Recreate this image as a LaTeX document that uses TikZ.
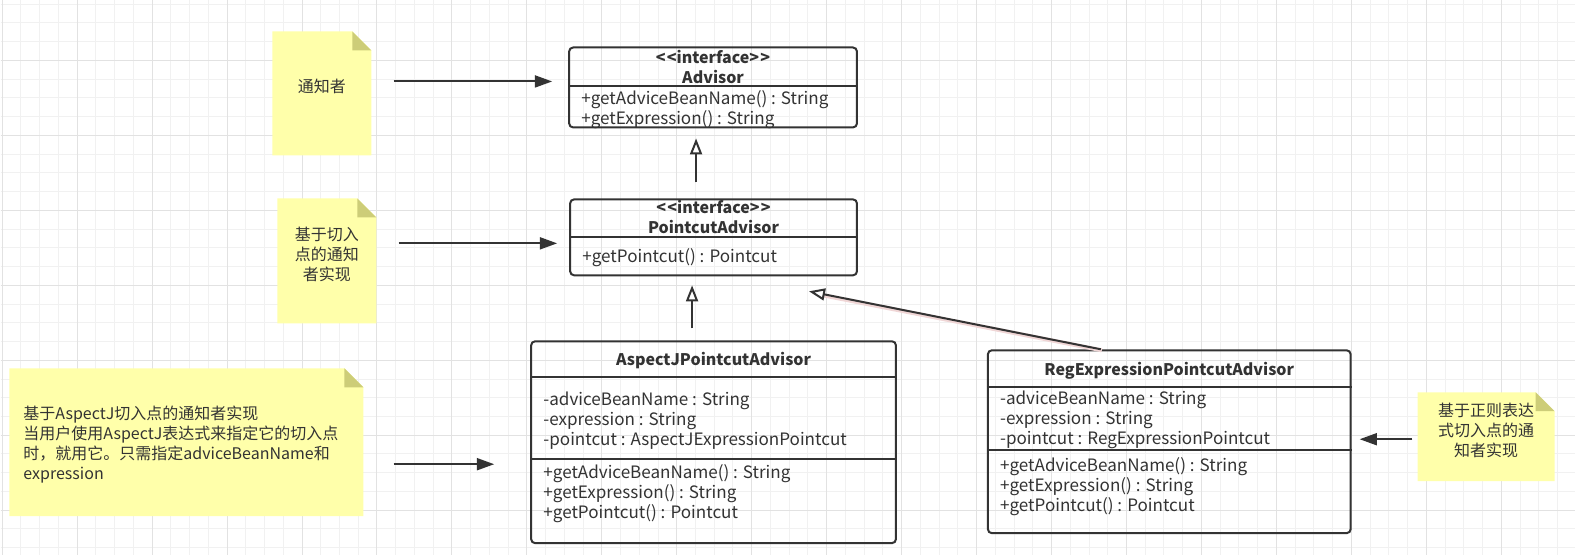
\documentclass[tikz,border=0pt]{standalone}
\usepackage{fontspec}
\setmainfont{Noto Sans CJK SC}
\usepackage{tikz}
\usetikzlibrary{arrows.meta, fit, calc}
\definecolor{UMLInk}{RGB}{51,51,51}
\definecolor{NoteYellow}{RGB}{255,255,170}
\definecolor{NoteFold}{RGB}{205,205,120}
\definecolor{GridMinor}{RGB}{241,241,241}
\definecolor{GridMajor}{RGB}{226,226,226}
\definecolor{LinkGlow}{RGB}{240,214,214}

\begin{document}
\begin{tikzpicture}[x=0.75pt, y=-0.75pt,
          cls/.style={draw=UMLInk, line width=1.5pt, rounded corners=3pt,
                      inner sep=0pt},
          sep/.style={draw=UMLInk, line width=1.5pt},
          ttl/.style={font=\fontsize{12}{15}\selectfont\bfseries,
                      text=UMLInk, inner sep=0pt},
          mem/.style={font=\fontsize{12.8}{15}\selectfont, text=UMLInk,
                      anchor=west, inner sep=0pt, align=left},
          note/.style={inner sep=0pt, font=\fontsize{12}{15}\selectfont,
                      text=UMLInk, align=center,
                      path picture={
                        \fill[NoteYellow] (path picture bounding box.north west)
                          -- ([xshift=-14.25pt]path picture bounding box.north east)
                          -- ([yshift=-14.25pt]path picture bounding box.north east)
                          -- (path picture bounding box.south east)
                          -- (path picture bounding box.south west) -- cycle;
                        \fill[NoteFold] ([xshift=-14.25pt]path picture bounding box.north east)
                          -- ([yshift=-14.25pt]path picture bounding box.north east)
                          -- ([xshift=-14.25pt,yshift=-14.25pt]path picture bounding box.north east)
                          -- cycle;}},
          ptr/.style={draw=UMLInk, line width=1.5pt,
                      -{Triangle[length=13pt, width=9pt]}},
          gen/.style={draw=UMLInk, line width=1.5pt,
                      -{Triangle[open, fill=white, length=12pt, width=9pt]}}
        ]
        % Canvas and grid
        \fill[white] (0,0) rectangle (1575,555);
        \foreach \k in {0,...,83}
          \draw[GridMinor, line width=0.75pt] ({1.7+18.75*\k},0) -- ({1.7+18.75*\k},555);
        \foreach \k in {0,...,29}
          \draw[GridMinor, line width=0.75pt] (0,{3.75+18.75*\k}) -- (1575,{3.75+18.75*\k});
        \foreach \k in {0,...,20}
          \draw[GridMajor, line width=0.75pt] ({1.7+75*\k},0) -- ({1.7+75*\k},555);
        \foreach \k in {0,...,6}
          \draw[GridMajor, line width=0.75pt] (0,{60+75*\k}) -- (1575,{60+75*\k});
        \useasboundingbox (0,0) rectangle (1575,555);

        % Advisor
        \node[cls, fit={(569,47) (857,127)}] (adv) {};
        \draw[sep] ($(adv.north west)+(0,40)$) -- ($(adv.north east)+(0,40)$);
        \node[ttl] (advst) at ($(adv.north)+(0,11)$) {<\kern1pt<interface>\kern1pt>};
        \node[ttl] (advnm) at ($(adv.north)+(0,31)$) {Advisor};
        \node[mem] (advop) at ($(adv.north west)+(13,63)$)
              {+getAdviceBeanName() : String\\+getExpression() : String};

        % PointcutAdvisor
        \node[cls, fit={(570,199) (857,275)}] (pca) {};
        \draw[sep] ($(pca.north west)+(0,39)$) -- ($(pca.north east)+(0,39)$);
        \node[ttl] (pcast) at ($(pca.north)+(0,9)$) {<\kern1pt<interface>\kern1pt>};
        \node[ttl] (pcanm) at ($(pca.north)+(0,29)$) {PointcutAdvisor};
        \node[mem] (pcaop) at ($(pca.north west)+(13,59)$)
              {+getPointcut() : Pointcut};

        % AspectJPointcutAdvisor
        \node[cls, fit={(531,341) (896,543)}] (asp) {};
        \draw[sep] ($(asp.north west)+(0,37)$) -- ($(asp.north east)+(0,37)$);
        \draw[sep] ($(asp.north west)+(0,119)$) -- ($(asp.north east)+(0,119)$);
        \node[ttl] (aspnm) at ($(asp.north)+(0,20)$) {AspectJPointcutAdvisor};
        \node[mem] (aspat) at ($(asp.north west)+(13,80)$)
              {-adviceBeanName : String\\-expression : String\\-pointcut : AspectJExpressionPointcut};
        \node[mem] (aspop) at ($(asp.north west)+(13,153.5)$)
              {+getAdviceBeanName() : String\\+getExpression() : String\\+getPointcut() : Pointcut};

        % RegExpressionPointcutAdvisor
        \node[cls, fit={(988,350) (1351,533)}] (reg) {};
        \draw[sep] ($(reg.north west)+(0,38)$) -- ($(reg.north east)+(0,38)$);
        \draw[sep] ($(reg.north west)+(0,101)$) -- ($(reg.north east)+(0,101)$);
        \node[ttl] (regnm) at ($(reg.north)+(0,21)$) {RegExpressionPointcutAdvisor};
        \node[mem] (regat) at ($(reg.north west)+(13,70.5)$)
              {-adviceBeanName : String\\-expression : String\\-pointcut : RegExpressionPointcut};
        \node[mem] (regop) at ($(reg.north west)+(13,137)$)
              {+getAdviceBeanName() : String\\+getExpression() : String\\+getPointcut() : Pointcut};

        % Notes
        \node[note, fit={(272,31) (371,155)}] (n1) {通知者};
        \node[note, fit={(277,198) (376,323)}] (n2) {基于切入\\点的通知\\者实现};
        \node[note, fit={(9,368) (363,516)}] (n3)
              {\raisebox{-36pt}{\parbox[c]{244.5pt}{\raggedright 基于AspectJ切入点的通知者实现\\当用户使用AspectJ表达式来指定它的切入点\\时，就用它。只需指定adviceBeanName和\\expression}}};
        \node[note, fit={(1418,392) (1555,481)}] (n4) {基于正则表达\\式切入点的通\\知者实现};

        % Note pointers
        \draw[ptr] ($(n1.east)+(22,-12)$) -- ($(adv.west)+(-16,-6)$);
        \draw[ptr] ($(n2.east)+(22,-17.5)$) -- ($(pca.west)+(-12,6)$);
        \draw[ptr] ($(n3.east)+(30,22)$) -- ($(asp.west)+(-36,22)$);
        \draw[ptr] ($(n4.west)+(-5,2.5)$) -- ($(reg.east)+(8,-2.5)$);

        % Generalization
        \draw[gen] ($(pca.north west)+(127,-16)$) -- ($(adv.south west)+(128,10)$);
        \draw[gen] ($(asp.north west)+(162,-12)$) -- ($(pca.south west)+(123,9)$);
        \draw[LinkGlow, line width=3pt] ($(reg.north west)+(115,1)$) -- ($(pca.south west)+(254,19)$);
        \draw[gen] ($(reg.north west)+(114,0)$) -- ($(pca.south west)+(240,15)$);
      \end{tikzpicture}
\end{document}
